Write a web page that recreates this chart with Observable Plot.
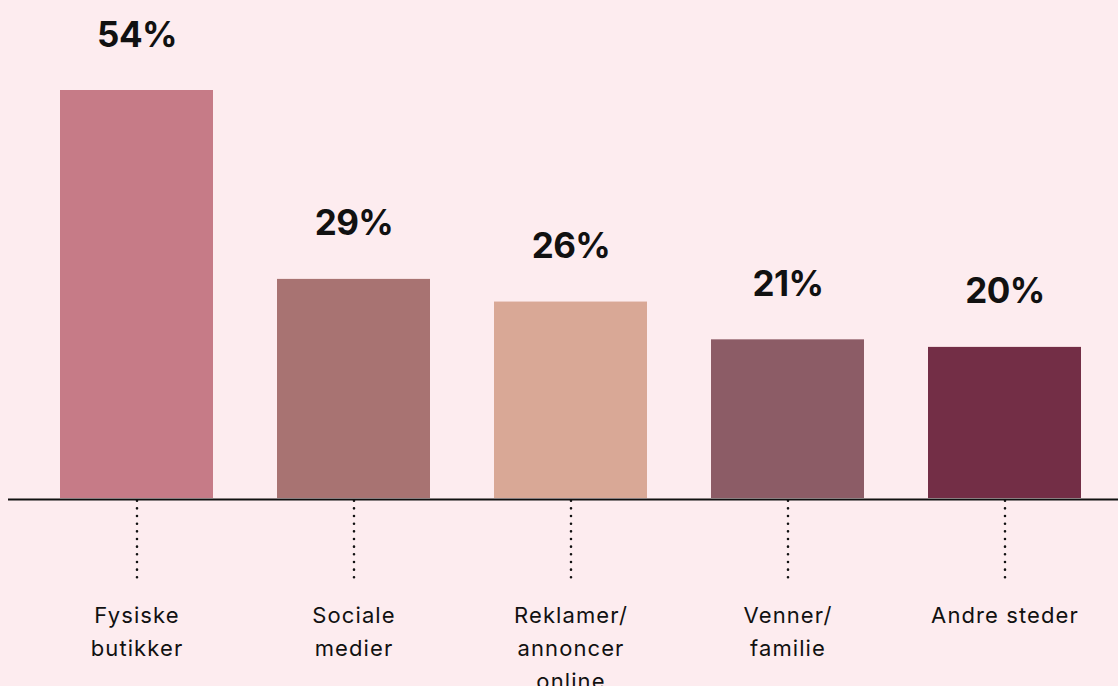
<!DOCTYPE html>
<html>
<head>
<meta charset="utf-8">
<script src="https://cdn.jsdelivr.net/npm/d3@7"></script>
<script src="https://cdn.jsdelivr.net/npm/@observablehq/plot@0.6"></script>
<style>
  html, body { margin: 0; padding: 0; background: #fdecef; }
  #chart svg { display: block; }
  #chart g[aria-label="x-axis tick label"] text { letter-spacing: 1.1px; }
  #chart g[aria-label="text"] text { letter-spacing: -0.6px; }
</style>
</head>
<body>
<div id="chart"></div>
<script>
const categories = ["Fysiske butikker", "Sociale medier", "Reklamer/ annoncer online", "Venner/ familie", "Andre steder"];
const tickLabels = ["Fysiske\nbutikker", "Sociale\nmedier", "Reklamer/\nannoncer\nonline", "Venner/\nfamilie", "Andre steder"];
const values = [54, 29, 26, 21, 20];
const colors = ["#c67b87", "#a87372", "#d9a896", "#8c5c66", "#732e46"];

const data = categories.map((c, i) => ({category: c, value: values[i]}));
const labelOf = new Map(categories.map((c, i) => [c, tickLabels[i]]));

const chart = Plot.plot({
  width: 1118,
  height: 686,
  marginLeft: 8,
  marginRight: 0,
  marginTop: 90,
  marginBottom: 188,
  style: {background: "#fdecef", fontFamily: "Inter, 'Noto Sans', sans-serif", color: "#111"},
  x: {domain: categories, range: [59, 1081], paddingInner: 0.295, paddingOuter: 0, label: null},
  y: {domain: [0, 54], axis: null},
  color: {domain: categories, range: colors},
  marks: [
    Plot.barY(data, {x: "category", y: "value", fill: "category"}),
    Plot.ruleY([0], {stroke: "#111", strokeWidth: 2, dy: 1}),
    Plot.axisX({
      tickSize: 80,
      tickFormat: () => "",
      stroke: "#111",
      strokeWidth: 2.6,
      strokeLinecap: "round",
      strokeDasharray: "0 7.66",
      strokeDashoffset: -2.7,
      label: null
    }),
    Plot.axisX({
      tickSize: 0,
      tickPadding: 101,
      tickFormat: d => labelOf.get(d),
      fontSize: 22,
      lineHeight: 1.5,
      fill: "#111",
      label: null
    }),
    Plot.text(data, {
      x: "category",
      y: "value",
      text: d => d.value + "%",
      dy: -44,
      lineAnchor: "bottom",
      fontSize: 35,
      fontWeight: 700,
      fill: "#111"
    })
  ]
});
document.getElementById("chart").appendChild(chart);
</script>
</body>
</html>
